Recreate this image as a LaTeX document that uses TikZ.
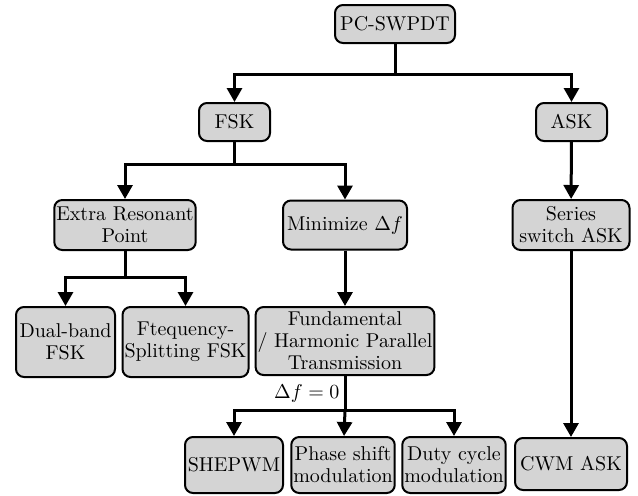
\documentclass[tikz,border=0pt]{standalone}
\usetikzlibrary{arrows.meta, positioning}
\definecolor{boxgray}{RGB}{212,212,212}

\begin{document}
\begin{tikzpicture}[x=0.5pt, y=-0.5pt,
boxnode/.style={rectangle, rounded corners=4pt, draw=black, line width=1pt, fill=boxgray, align=center, inner sep=1pt, font=\fontsize{10}{11}\selectfont},
linkarrow/.style={line width=1.5pt, -{Triangle[length=7pt, width=7.5pt]}},
linkline/.style={line width=1.5pt},
dflabel/.style={left, inner sep=2pt, font=\fontsize{10}{11}\selectfont},
]
\useasboundingbox (0,0) rectangle (638,495);
%Nodes
\node[boxnode, minimum width=60pt, minimum height=19pt] (pcswpdt) at (395,24) {PC-SWPDT};
\node[boxnode, minimum width=35.5pt, minimum height=19pt] (fsk) at (234.5,122) {FSK};
\node[boxnode, minimum width=35.5pt, minimum height=19pt] (ask) at (571.5,122) {ASK};
\node[boxnode, minimum width=70pt, minimum height=25pt] (extra) at (125,225) {Extra Resonant\\Point};
\node[boxnode, minimum width=62pt, minimum height=24.5pt] (mindf) at (345,225) {Minimize $\Delta f$};
\node[boxnode, minimum width=58.5pt, minimum height=25pt] (series) at (571,225) {Series\\switch ASK};
\node[boxnode, minimum width=49.5pt, minimum height=35pt] (dualband) at (65.5,342) {Dual-band\\FSK};
\node[boxnode, minimum width=62.5pt, minimum height=35pt] (splitting) at (185.5,342) {Ftequency-\\Splitting FSK};
\node[boxnode, minimum width=89pt, minimum height=34pt] (fundamental) at (345,341) {Fundamental\\/ Harmonic Parallel\\Transmission};
\node[boxnode, minimum width=49pt, minimum height=28pt] (shepwm) at (234,465) {SHEPWM};
\node[boxnode, minimum width=50pt, minimum height=28pt] (phase) at (343,465) {Phase shift\\modulation};
\node[boxnode, minimum width=51pt, minimum height=28pt] (duty) at (454,465) {Duty cycle\\modulation};
\node[boxnode, minimum width=56pt, minimum height=26pt] (cwm) at (571,464) {CWM ASK};
%Junctions
\coordinate (jtop) at (395,74);
\coordinate (jfsk) at (234.5,164);
\coordinate (jextra) at (125,277);
\coordinate (jfund) at (345,410);
%Connectors
\draw[linkline] (pcswpdt) -- (jtop);
\draw[linkarrow] (jtop) -| (fsk);
\draw[linkarrow] (jtop) -| (ask);
\draw[linkline] (fsk) -- (jfsk);
\draw[linkarrow] (jfsk) -| (extra);
\draw[linkarrow] (jfsk) -| (mindf);
\draw[linkarrow] (ask) -- (series);
\draw[linkline] (extra) -- (jextra);
\draw[linkarrow] (jextra) -| (dualband);
\draw[linkarrow] (jextra) -| (splitting);
\draw[linkarrow] (mindf) -- (fundamental);
\draw[linkline] (fundamental) -- node[dflabel] {$\Delta f = 0$} (jfund);
\draw[linkarrow] (jfund) -| (shepwm);
\draw[linkarrow] (jfund) -- (phase);
\draw[linkarrow] (jfund) -| (duty);
\draw[linkarrow] (series) -- (cwm);
\end{tikzpicture}
\end{document}
